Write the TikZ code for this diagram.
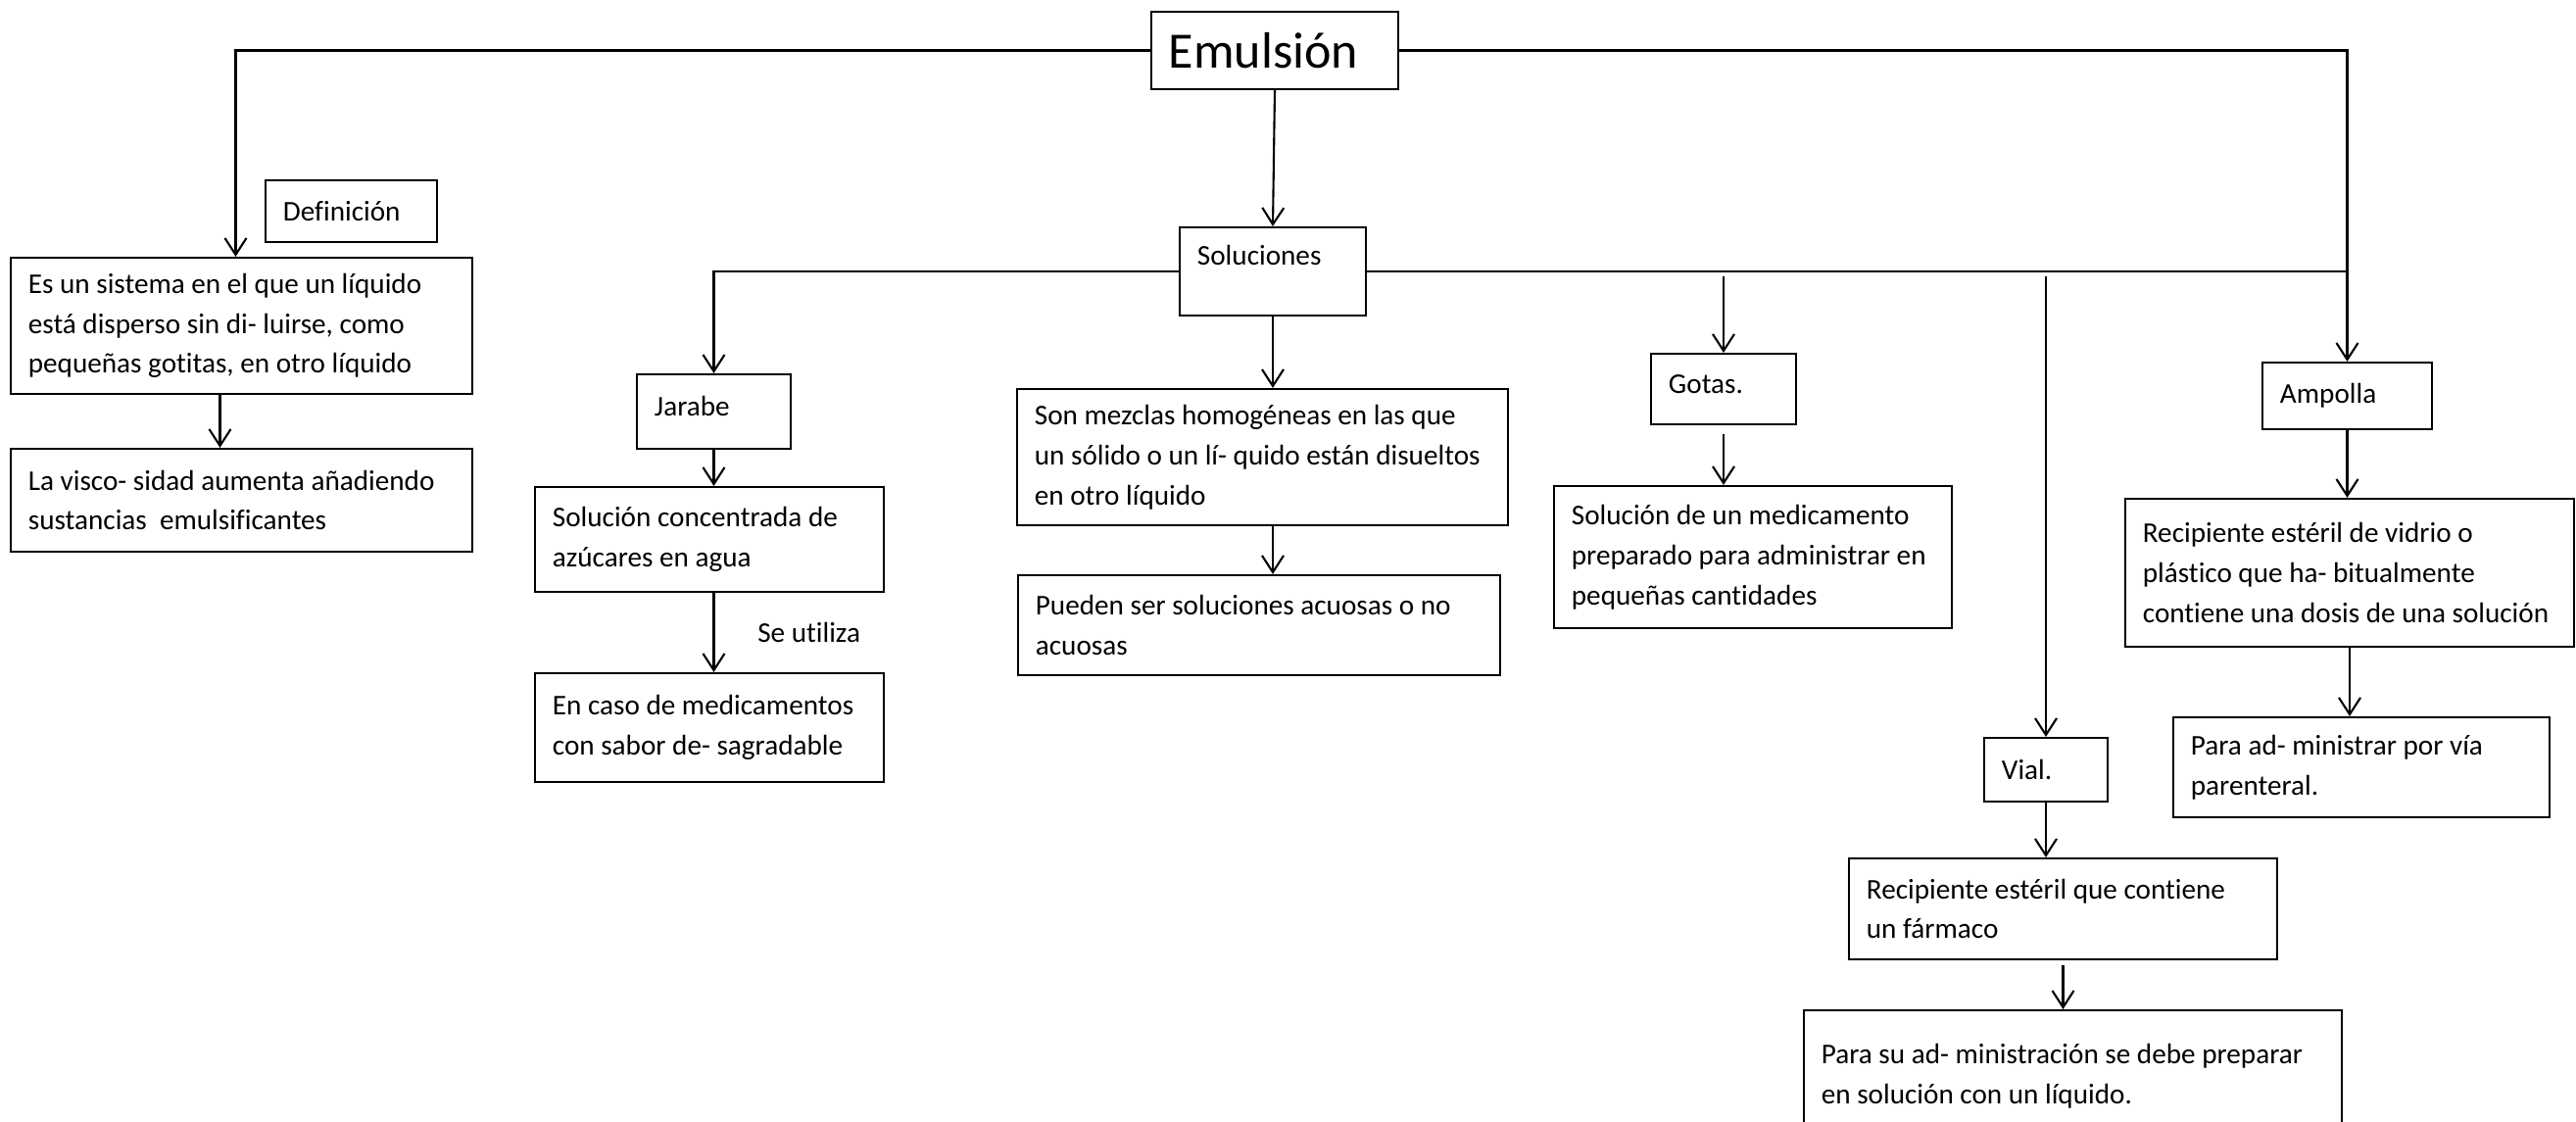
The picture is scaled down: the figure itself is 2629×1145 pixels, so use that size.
\documentclass[tikz,border=0pt]{standalone}
\usepackage{fontspec}
\setmainfont{Carlito}[Ligatures=NoCommon]
\usetikzlibrary{arrows.meta}

\begin{document}
\hyphenpenalty=10000
\begin{tikzpicture}[x=0.01cm,y=-0.01cm]
      \tikzstyle{box}=[draw,line width=0.6pt,align=flush left,inner xsep=0.18cm,inner ysep=0pt,font=\fontsize{8.3}{11.6}\selectfont]
      \tikzstyle{arr}=[line width=0.6pt,-{Straight Barb[length=0.17cm,width=0.22cm]}]
      \tikzstyle{lbl}=[font=\fontsize{8.3}{11.6}\selectfont]
      \useasboundingbox (0,0) rectangle (2629,1145);
      \node[box,font=\fontsize{14.8}{17}\selectfont,text width=2.16cm,minimum height=0.79cm] (emulsion) at (1301,51.5) {Emulsión};
      \node[box,text width=1.39cm,minimum height=0.63cm] (definicion) at (358.5,215.5) {Definición};
      \node[box,text width=4.35cm,minimum height=1.39cm] (sistema) at (246.5,332.5) {Es un sistema en el que un líquido\\está disperso sin di- luirse, como\\pequeñas gotitas, en otro líquido};
      \node[box,text width=4.35cm,minimum height=1.05cm] (viscosidad) at (246.5,510.5) {La visco- sidad aumenta añadiendo\\sustancias \ emulsificantes};
      \node[box,text width=1.54cm,text depth=0.34cm,minimum height=0.90cm] (solucion) at (1299,277) {Soluciones};
      \node[box,text width=1.21cm,text depth=0.12cm,minimum height=0.76cm] (jarabe) at (728.5,420) {Jarabe};
      \node[box,text width=3.20cm,minimum height=1.07cm] (jarabe_def) at (724,550.5) {Solución concentrada de\\azúcares en agua};
      \node[box,text width=3.20cm,minimum height=1.11cm] (jarabe_uso) at (724,742.5) {En caso de medicamentos\\con sabor de- sagradable};
      \node[box,text width=4.65cm,minimum height=1.39cm] (mezcla) at (1288.5,466.5) {Son mezclas homogéneas en las que\\un sólido o un lí- quido están disueltos\\en otro líquido};
      \node[box,text width=4.56cm,minimum height=1.02cm] (acuosa) at (1285,638) {Pueden ser soluciones acuosas o no\\acuosas};
      \node[box,text width=1.12cm,text depth=0.1cm,minimum height=0.72cm] (gotas) at (1759,397) {Gotas.};
      \node[box,text width=3.70cm,minimum height=1.45cm] (gotas_def) at (1789,568.5) {Solución de un medicamento\\preparado para administrar en\\pequeñas cantidades};
      \node[box,text width=0.90cm,minimum height=0.65cm] (vial) at (2088,785.5) {Vial.};
      \node[box,text width=4.01cm,minimum height=1.03cm] (vial_def) at (2105.5,927.5) {Recipiente estéril que contiene\\un fármaco};
      \node[box,text width=5.13cm,minimum height=1.34cm] (vial_uso) at (2115.5,1098) {Para su ad- ministración se debe preparar\\en solución con un líquido.};
      \node[box,text width=1.37cm,minimum height=0.68cm] (ampolla) at (2395.5,404) {Ampolla};
      \node[box,text width=4.22cm,minimum height=1.51cm] (ampolla_def) at (2398,584.5) {Recipiente estéril de vidrio o\\plástico que ha- bitualmente\\contiene una dosis de una solución};
      \node[box,text width=3.48cm,minimum height=1.02cm] (ampolla_uso) at (2410,783) {Para ad- ministrar por vía\\parenteral.};
      \draw[arr] (emulsion.west) -| ([xshift=-0.06cm]sistema.north);
      \draw[arr] ([xshift=-0.22cm]sistema.south) -- ([xshift=-0.22cm]viscosidad.north);
      \draw[arr] (emulsion.south) -- (solucion.north);
      \draw[arr] (emulsion.east) -| (ampolla.north);
      \draw (solucion.east) -- (solucion.east -| ampolla.north);
      \draw[arr] (solucion.west) -| (jarabe.north);
      \draw[arr] (jarabe.south) -- (jarabe.south |- jarabe_def.north);
      \draw[arr] (jarabe_def.south -| jarabe.south) -- (jarabe_uso.north -| jarabe.south) node[lbl,midway,right=0.32cm] (se_utiliza) {Se utiliza};
      \draw[arr] (solucion.south) -- (solucion.south |- mezcla.north);
      \draw[arr] (mezcla.south -| solucion.south) -- (acuosa.north -| solucion.south);
      \draw[arr] ([yshift=-0.05cm]solucion.east -| gotas.north) -- (gotas.north);
      \draw[arr] ([yshift=-0.09cm]gotas.south) -- (gotas.south |- gotas_def.north);
      \draw[arr] ([yshift=-0.05cm]solucion.east -| vial.north) -- (vial.north);
      \draw[arr] (vial.south) -- (vial.south |- vial_def.north);
      \draw[arr] ([yshift=-0.05cm]vial_def.south) -- (vial_def.south |- vial_uso.north);
      \draw[arr] (ampolla.south) -- (ampolla.south |- ampolla_def.north);
      \draw[arr] (ampolla_def.south) -- (ampolla_def.south |- ampolla_uso.north);
\end{tikzpicture}
\end{document}
